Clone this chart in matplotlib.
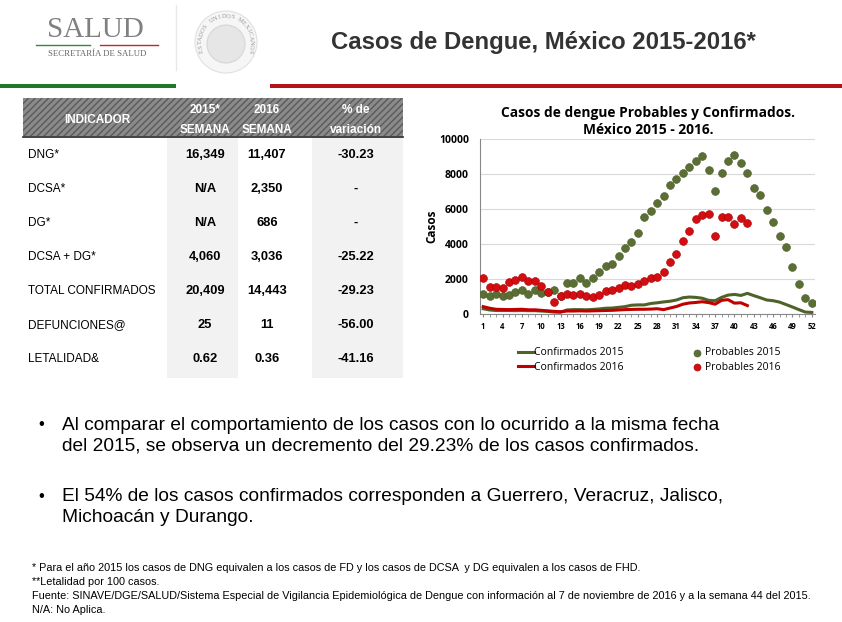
import numpy as np
import matplotlib
matplotlib.use("Agg")
import matplotlib.pyplot as plt
from matplotlib.patches import Rectangle, Circle

W, H = 842, 622
GREEN_D, RED_D = "#5b6f34", "#d40d12"
GREEN_L, RED_L = "#4f6228", "#c00000"
SANS = ["Liberation Sans", "DejaVu Sans"]
CHART_FONT = ["Open Sans", "DejaVu Sans"]

# ---- data ----
weeks = np.arange(1, 53)
prob_2015 = [1130, 1050, 1160, 1050, 1100, 1240, 1350, 1160, 1350, 1200,
             1250, 1350, 1050, 1760, 1790, 2040, 1760, 2040, 2420, 2730,
             2880, 3300, 3760, 4100, 4620, 5550, 5880, 6320, 6740, 7390,
             7690, 8030, 8380, 8720, 9030, 8210, 7000, 8050, 8760, 9100,
             8610, 8030, 7210, 6780, 5950, 5250, 4470, 3820, 2670, 1700,
             900, 610]
prob_2016 = [2040, 1570, 1570, 1510, 1810, 1950, 2100, 1890, 1910, 1620,
             1260, 710, 1030, 1130, 1090, 1130, 1010, 950, 1070, 1300,
             1390, 1510, 1660, 1580, 1700, 1910, 2040, 2120, 2410, 2960,
             3420, 4180, 4750, 5400, 5670, 5710, 4450, 5570, 5520, 5130,
             5480, 5210]
conf_2015 = [300, 230, 200, 200, 200, 190, 200, 190, 190, 170,
             150, 110, 100, 230, 250, 250, 240, 260, 290, 330,
             340, 380, 420, 500, 520, 520, 600, 640, 690, 730,
             800, 930, 970, 950, 900, 780, 760, 950, 1080, 1120,
             1060, 1180, 1050, 930, 800, 760, 680, 540, 400, 250,
             110, 90]
conf_2016 = [420, 330, 270, 260, 250, 260, 270, 240, 240, 210,
             180, 150, 130, 170, 170, 180, 170, 180, 190, 200,
             210, 230, 250, 260, 270, 270, 280, 300, 250, 340,
             430, 560, 630, 660, 700, 650, 560, 780, 820, 620,
             640, 480]
tick_weeks = list(range(1, 53, 3))

tbl_head = ["INDICADOR", "2015*\nSEMANA", "2016\nSEMANA", "% de\nvariación"]
tbl_rows = ["DNG*", "DCSA*", "DG*", "DCSA + DG*", "TOTAL CONFIRMADOS",
            "DEFUNCIONES@", "LETALIDAD&"]
col_2015 = ["16,349", "N/A", "N/A", "4,060", "20,409", "25", "0.62"]
col_2016 = ["11,407", "2,350", "686", "3,036", "14,443", "11", "0.36"]
col_var = ["-30.23", "-", "-", "-25.22", "-29.23", "-56.00", "-41.16"]

bullets = ["Al comparar el comportamiento de los casos con lo ocurrido a la misma fecha\n"
           "del 2015, se observa un decremento del 29.23% de los casos confirmados.",
           "El 54% de los casos confirmados corresponden a Guerrero, Veracruz, Jalisco,\n"
           "Michoacán y Durango."]
notes = ["* Para el año 2015 los casos de DNG equivalen a los casos de FD y los casos de DCSA  y DG equivalen a los casos de FHD.",
         "**Letalidad por 100 casos.",
         "Fuente: SINAVE/DGE/SALUD/Sistema Especial de Vigilancia Epidemiológica de Dengue con información al 7 de noviembre de 2016 y a la semana 44 del 2015.",
         "N/A: No Aplica."]
seal_text = "ESTADOS UNIDOS MEXICANOS"

fig = plt.figure(figsize=(W / 100, H / 100), dpi=100)
bg = fig.add_axes([0, 0, 1, 1])
bg.set_xlim(0, W); bg.set_ylim(H, 0); bg.axis("off")

# ---- header ----
bg.text(95, 30, "SALUD", fontsize=21, family="Liberation Serif", color="#808080",
        ha="center", va="center")
bg.plot([36, 90], [45, 45], color="#2e8b3a", lw=1)
bg.plot([100, 158], [45, 45], color="#c0282d", lw=1)
bg.text(97, 54, "SECRETARÍA DE SALUD", fontsize=6.3, family="Liberation Serif",
        color="#666666", ha="center", va="center")
bg.plot([176, 176], [5, 70], color="#e8e8e8", lw=1)
bg.add_patch(Circle((226, 42), 31, fc="#f6f6f6", ec="#e0e0e0", lw=0.8))
bg.add_patch(Circle((226, 44), 19, fc="#e6e6e6", ec="#d6d6d6", lw=0.8))
for k, ch in enumerate(seal_text):
    ang = np.deg2rad(200 - k * 220 / (len(seal_text) - 1))
    bg.text(226 + 25.5 * np.cos(ang), 42 - 25.5 * np.sin(ang), ch, fontsize=4.6,
            family="Liberation Serif", color="#9a9a9a", ha="center", va="center",
            rotation=np.rad2deg(ang) - 90)
bg.text(543, 43, "Casos de Dengue, México 2015-2016*", fontsize=17.2, fontweight="bold",
        family=SANS, color="#333333", ha="center", va="center")
bg.add_patch(Rectangle((0, 84), 176, 4, fc="#1e7a2a", ec="none"))
bg.add_patch(Rectangle((270, 84), 572, 4, fc="#b5121b", ec="none"))

# ---- table ----
bg.add_patch(Rectangle((167, 136), 71, 242, fc="#f2f2f2", ec="none"))
bg.add_patch(Rectangle((312, 136), 91, 242, fc="#f2f2f2", ec="none"))
bg.add_patch(Rectangle((23, 98), 380, 38, fc="#8a8a8a", ec="#5a5a5a", lw=0,
                       hatch="/////"))
bg.plot([23, 403], [136.5, 136.5], color="#222222", lw=1.2)
for x, lab in zip([97, 205, 267, 356], tbl_head):
    bg.text(x, 120, lab, fontsize=8.5, fontweight="bold", color="white",
            family=SANS, ha="center", va="center", linespacing=1.95)
for i, lab in enumerate(tbl_rows):
    y = 155 + i * 34
    bg.text(28, y, lab, fontsize=8.5, family=SANS, color="black", va="center")
    for x, vals in zip([205, 267, 356], [col_2015, col_2016, col_var]):
        bg.text(x, y, vals[i], fontsize=9.3, fontweight="bold", family=SANS,
                ha="center", va="center")

# ---- bullets and footnotes ----
for y, txt in zip([436, 507], bullets):
    bg.text(38, y - 11, "•", fontsize=12, family=SANS, va="center")
    bg.text(62, y, txt, fontsize=13.8, family=SANS, va="center", linespacing=1.28)
for i, txt in enumerate(notes):
    bg.text(32, 568 + i * 14, txt, fontsize=7.8, family=SANS, va="center")

# ---- chart ----
ax = fig.add_axes([480 / W, 1 - 314 / H, 335 / W, 175 / H])
ax.grid(axis="y", color="#d9d9d9", lw=0.8)
ax.set_axisbelow(True)
ax.plot(weeks, conf_2015, color=GREEN_L, lw=2.2, label="Confirmados 2015", zorder=2)
ax.scatter(weeks, prob_2015, s=32, color=GREEN_D, edgecolor="#4a5c2a", lw=0.4,
           label="Probables 2015", zorder=3)
ax.plot(weeks[:len(conf_2016)], conf_2016, color=RED_L, lw=2.2,
        label="Confirmados 2016", zorder=2)
ax.scatter(weeks[:len(prob_2016)], prob_2016, s=32, color=RED_D, edgecolor="#a00000",
           lw=0.4, label="Probables 2016", zorder=4)
ax.set_xlim(0.5, 52.5)
ax.set_ylim(0, 10000)
ax.set_yticks(range(0, 10001, 2000))
ax.set_xticks(tick_weeks)
ax.set_xticks(weeks, minor=True)
ax.tick_params(axis="x", which="both", direction="out", length=2, color="#888888",
               labelsize=5.5, pad=3.5)
ax.tick_params(axis="y", length=0, labelsize=7.5, pad=8)
for lab in ax.get_xticklabels() + ax.get_yticklabels():
    lab.set_family(CHART_FONT)
    lab.set_fontweight("bold")
ax.set_ylabel("Casos", fontsize=8.5, fontweight="bold", family=CHART_FONT)
ax.yaxis.set_label_coords(-42 / 335, 0.5)
ax.spines[["top", "right"]].set_visible(False)
ax.spines["left"].set_color("#888888")
ax.spines["bottom"].set_color("#888888")
fig.text(648 / W, 1 - 113 / H, "Casos de dengue Probables y Confirmados.", fontsize=9.9,
         fontweight="bold", family=CHART_FONT, ha="center", va="center")
fig.text(648 / W, 1 - 130 / H, "México 2015 - 2016.", fontsize=9.9,
         fontweight="bold", family=CHART_FONT, ha="center", va="center")
h, l = ax.get_legend_handles_labels()
fig.legend([h[i] for i in [0, 2, 1, 3]], [l[i] for i in [0, 2, 1, 3]],
           ncol=2, loc="upper left", bbox_to_anchor=(509 / W, 1 - 338 / H),
           frameon=False, handlelength=1.5, handletextpad=0.0,
           columnspacing=6.3, labelspacing=0.35, markerscale=0.9,
           prop={"family": CHART_FONT, "size": 7.5})

fig.savefig("out.png", dpi=100)
